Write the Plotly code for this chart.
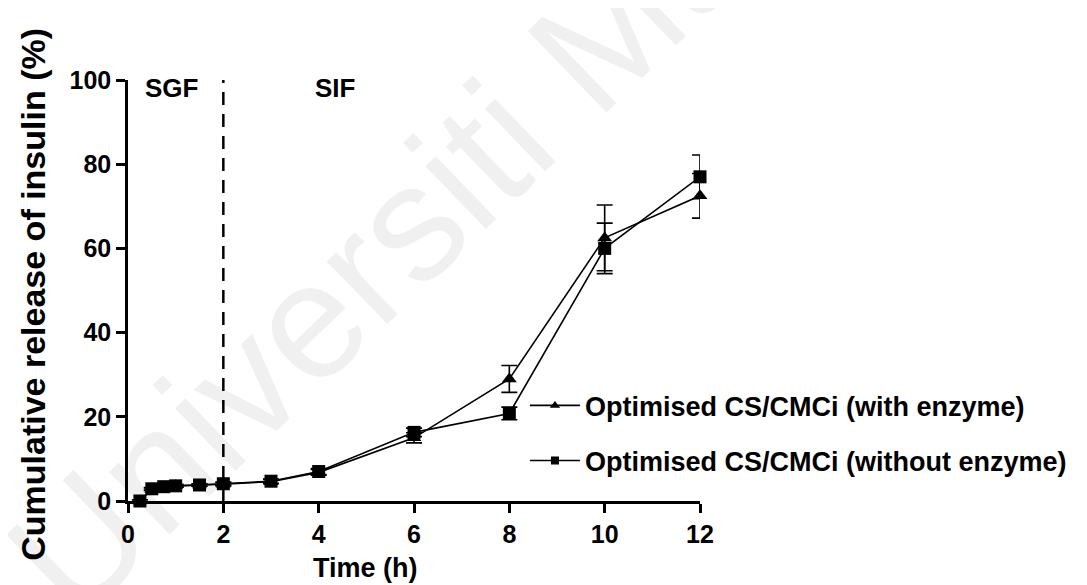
import plotly.graph_objects as go

# ---- data ----
time_h = [0.25, 0.5, 0.75, 1, 1.5, 2, 3, 4, 6, 8, 10, 12]
with_enzyme = [0.0, 2.8, 3.3, 3.6, 3.8, 4.0, 4.6, 6.8, 15.0, 29.0, 62.5, 72.5]
with_enzyme_err = [0.3, 0.3, 0.3, 0.3, 0.3, 0.4, 0.5, 0.7, 1.2, 3.2, 7.8, 5.3]
without_enzyme = [0.0, 2.9, 3.4, 3.6, 3.8, 4.1, 4.7, 7.0, 16.3, 20.8, 60.0, 77.0]
without_enzyme_err = [0.3, 0.3, 0.3, 0.3, 0.3, 0.4, 0.5, 0.7, 1.0, 1.5, 6.0, 5.2]
series_names = ["Optimised CS/CMCi (with enzyme)", "Optimised CS/CMCi (without enzyme)"]
x_ticks = [0, 2, 4, 6, 8, 10, 12]
y_ticks = [0, 20, 40, 60, 80, 100]
phase_labels = ["SGF", "SIF"]
phase_boundary = 2

FONT = "Liberation Sans, Arial, sans-serif"

fig = go.Figure()

# main traces
fig.add_trace(go.Scatter(
    x=time_h, y=with_enzyme, mode="lines+markers", showlegend=False,
    line=dict(color="black", width=1.6),
    marker=dict(symbol="triangle-up", size=13, color="black"),
    error_y=dict(type="data", array=with_enzyme_err, color="black", thickness=1.6, width=8),
    cliponaxis=False,
))
fig.add_trace(go.Scatter(
    x=time_h, y=without_enzyme, mode="lines+markers", showlegend=False,
    line=dict(color="black", width=1.6),
    marker=dict(symbol="square", size=13, color="black"),
    error_y=dict(type="data", array=without_enzyme_err, color="black", thickness=1.6, width=8),
    cliponaxis=False,
))

# legend-only traces (smaller legend symbols)
fig.add_trace(go.Scatter(
    x=[None], y=[None], mode="lines+markers", name=series_names[0], legend="legend",
    line=dict(color="black", width=1.6),
    marker=dict(symbol="triangle-up", size=9, color="black"),
))
fig.add_trace(go.Scatter(
    x=[None], y=[None], mode="lines+markers", name=series_names[1], legend="legend2",
    line=dict(color="black", width=1.6),
    marker=dict(symbol="square", size=8, color="black"),
))

# dashed phase boundary
fig.add_shape(type="line", x0=phase_boundary, x1=phase_boundary, y0=0, y1=100,
              xref="x", yref="y", line=dict(color="black", width=2.5, dash="13px,9px"))

legend_common = dict(
    xanchor="left", yanchor="middle", bgcolor="rgba(0,0,0,0)",
    font=dict(family=FONT, size=27, color="black", weight="bold"),
    itemwidth=50, borderwidth=0,
)

fig.update_layout(
    width=1087, height=585,
    margin=dict(l=120, r=395, t=72, b=92, autoexpand=False),
    paper_bgcolor="white", plot_bgcolor="white",
    font=dict(family=FONT, color="black"),
    legend=dict(x=0.694, y=0.226, **legend_common),
    legend2=dict(x=0.694, y=0.095, **legend_common),
    xaxis=dict(
        range=[0, 12], tickvals=x_ticks, showgrid=False, zeroline=False,
        showline=True, linecolor="black", linewidth=2.5,
        ticks="outside", ticklen=9, tickwidth=2.5, tickcolor="black",
        tickfont=dict(family=FONT, size=25, color="black", weight="bold"),
    ),
    yaxis=dict(
        range=[0, 100], tickvals=y_ticks, showgrid=False, zeroline=False,
        showline=True, linecolor="black", linewidth=2.5,
        ticks="outside", ticklen=9, tickwidth=2.5, tickcolor="black",
        tickfont=dict(family=FONT, size=25, color="black", weight="bold"),
    ),
    annotations=[
        # watermark
        dict(text="Universiti Malaya", xref="paper", yref="paper", x=0.629, y=0.838,
             xanchor="center", yanchor="middle", textangle=-44, showarrow=False,
             font=dict(family=FONT, size=165, color="rgba(0,0,0,0.06)")),
        dict(text=phase_labels[0], xref="paper", yref="paper", x=0.026, y=0.981,
             xanchor="left", yanchor="middle", showarrow=False,
             font=dict(family=FONT, size=26, color="black", weight="bold")),
        dict(text=phase_labels[1], xref="paper", yref="paper", x=0.323, y=0.981,
             xanchor="left", yanchor="middle", showarrow=False,
             font=dict(family=FONT, size=26, color="black", weight="bold")),
        dict(text="Time (h)", xref="paper", yref="paper", x=0.416, y=-0.159,
             xanchor="center", yanchor="middle", showarrow=False,
             font=dict(family=FONT, size=27, color="black", weight="bold")),
        dict(text="Cumulative release of insulin (%)", xref="paper", yref="paper",
             x=-0.166, y=0.49, xanchor="center", yanchor="middle", textangle=-90,
             showarrow=False,
             font=dict(family=FONT, size=34, color="black", weight="bold")),
    ],
)

fig.write_html("out.html")
